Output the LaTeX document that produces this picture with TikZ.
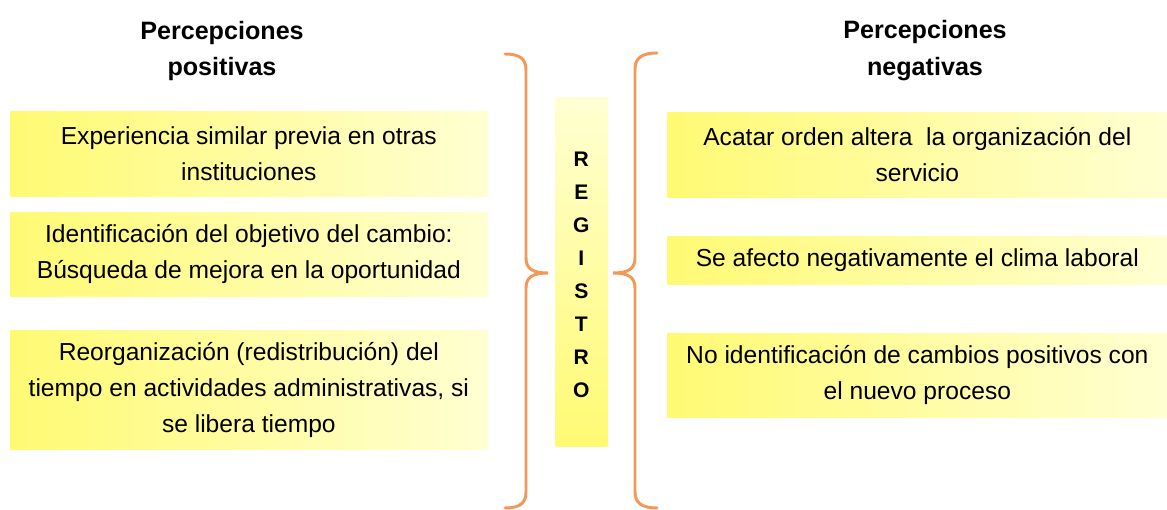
\documentclass[tikz,border=0pt]{standalone}
\usepackage{fontspec}
\setmainfont{Liberation Sans}
\usetikzlibrary{calc, positioning}
\definecolor{bracecol}{RGB}{242,152,88}
\definecolor{boxyellow}{RGB}{255,250,115}
\definecolor{boxpale}{RGB}{255,255,210}

\begin{document}
\begin{tikzpicture}
			[card/.style={left color=boxyellow, right color=boxpale, draw=none, align=center,
				inner sep=0pt, anchor=north west, font=\fontsize{14}{20.5}\selectfont},
			leftcard/.style={card, minimum width=9.54cm},
			rightcard/.style={card, minimum width=10cm},
			heading/.style={align=center, font=\bfseries\fontsize{14.3}{21}\selectfont},
			curly/.style={draw=bracecol, line width=1.7pt, line cap=round}]
			\useasboundingbox (0,0) rectangle (23.34,-10.2);

			\node[heading] (poshead) at (4.44,-1.02) {Percepciones\\positivas};
			\node[heading] (neghead) at (18.5,-1.02) {Percepciones\\negativas};

			\node[leftcard, minimum height=1.70cm] (pos1) at (0.2,-2.22)
				{Experiencia similar previa en otras\\instituciones};
			\node[leftcard, minimum height=1.68cm] (pos2) at (0.2,-4.24)
				{Identificación del objetivo del cambio:\\Búsqueda de mejora en la oportunidad};
			\node[leftcard, minimum height=2.38cm] (pos3) at (0.2,-6.60)
				{Reorganización (redistribución) del\\tiempo en actividades administrativas, si\\se libera tiempo};

			\node[rightcard, minimum height=1.70cm] (neg1) at (13.34,-2.24)
				{Acatar orden altera \ la organización del\\servicio};
			\node[rightcard, minimum height=0.96cm] (neg2) at (13.34,-4.72)
				{Se afecto negativamente el clima laboral};
			\node[rightcard, minimum height=1.68cm] (neg3) at (13.34,-6.66)
				{No identificación de cambios positivos con\\el nuevo proceso};

			\node[top color=boxpale, bottom color=boxyellow, anchor=north west, inner sep=0pt,
				minimum width=1.04cm, minimum height=6.98cm] (reg) at (11.10,-1.94) {};
			\node[align=center, font=\bfseries\fontsize{12}{18.8}\selectfont]
				(regtext) at ([yshift=-0.06cm]reg.center) {R\\E\\G\\I\\S\\T\\R\\O};

			% braces
			\coordinate (lbtop) at (10.10,-1.08);
			\coordinate (lbtip) at (10.96,-5.46);
			\coordinate (lbbot) at (10.10,-10.16);
			\coordinate (rbtop) at (13.14,-1.06);
			\coordinate (rbtip) at (12.26,-5.46);
			\coordinate (rbbot) at (13.14,-10.16);

			\draw[curly] (lbtop) .. controls +(0.3,0) and +(0,0.22) .. ++(0.42,-0.32)
				-- ($(lbtip)+(-0.44,0.3)$) .. controls +(0,-0.22) and +(-0.3,0) .. (lbtip)
				.. controls +(-0.3,0) and +(0,0.22) .. ++(-0.44,-0.3)
				-- ($(lbbot)+(0.42,0.32)$) .. controls +(0,-0.22) and +(0.3,0) .. (lbbot);
			\draw[curly] (rbtop) .. controls +(-0.3,0) and +(0,0.22) .. ++(-0.44,-0.32)
				-- ($(rbtip)+(0.44,0.3)$) .. controls +(0,-0.22) and +(0.3,0) .. (rbtip)
				.. controls +(0.3,0) and +(0,0.22) .. ++(0.44,-0.3)
				-- ($(rbbot)+(-0.44,0.32)$) .. controls +(0,-0.22) and +(-0.3,0) .. (rbbot);
		\end{tikzpicture}
\end{document}
